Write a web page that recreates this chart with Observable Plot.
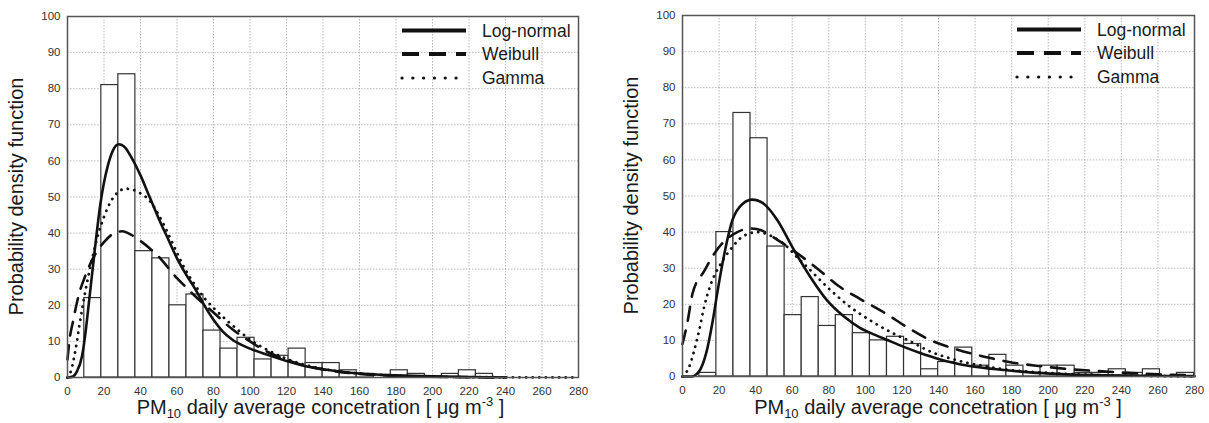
<!DOCTYPE html>
<html><head><meta charset="utf-8">
<script src="https://cdn.jsdelivr.net/npm/d3@7"></script>
<script src="https://cdn.jsdelivr.net/npm/@observablehq/plot@0.6"></script>
<style>
body{margin:0;background:#fff;}
#wrap{display:flex;width:1209px;height:423px;overflow:hidden;}
svg{font-family:"Liberation Sans",Arial,sans-serif;}
</style></head><body><div id="wrap"></div>
<script>
// ---------- data ----------
const binStart = 9.2, binWidth = 9.33;
const countsLeft  = [22,81,84,35,33,20,23,13,8,11,5,6,8,4,4,2,1,0,2,1,0,1,2,1];
const countsRight = [1,40,73,66,36,17,22,14,17,12,10,11,9,2,4,8,3,6,3,1,3,3,1,1,2,1,2,0,1];
const xTicks = [0,20,40,60,80,100,120,140,160,180,200,220,240,260,280];
const yTicks = [0,10,20,30,40,50,60,70,80,90,100];
const seriesNames = ["Log-normal","Weibull","Gamma"];

const lognormLeft = [[0,0],[3,0.3],[5,1.5],[8,6],[10,13],[12,22],[14,31],[16,40],[18,48],[20,54],[22,58.5],[25,63],[28,64.6],[31,64],[35,61],[40,56],[45,50],[50,44],[55,38.5],[60,33],[65,28.5],[70,24.5],[75,20],[80,16],[85,12.8],[90,10.6],[100,8],[110,6.2],[120,4.6],[130,3.2],[140,2.3],[150,1.6],[160,1.1],[180,0.6],[200,0.3],[220,0.15],[240,0.05]];
const weibullLeft = [[0,5],[1,10],[3,15.5],[6,22.5],[10,28.5],[15,34],[20,37.5],[25,39.8],[30,40.5],[35,39.5],[40,37.8],[45,35.8],[50,33.5],[55,30.5],[60,27.5],[65,25],[70,22.5],[80,18],[90,13.5],[100,10],[110,7],[120,4.9],[130,3.3],[140,2.2],[150,1.5],[160,1],[180,0.4],[200,0.2],[220,0.08],[240,0.03]];
const gammaLeft = [[0,0],[2,2],[4.5,8],[6.4,14],[8.2,19.5],[11,27],[14,34],[17,40],[20,44.5],[24,49],[28,51.5],[32,52.3],[36,52],[40,51],[45,49],[50,45],[55,40],[60,34.5],[65,29.5],[70,25.5],[75,22],[80,19.3],[88,15.5],[95,12.5],[100,10.5],[110,7.5],[120,5.2],[130,3.5],[140,2.4],[150,1.6],[160,1.1],[180,0.5],[200,0.2],[220,0.1],[240,0.05],[260,0.02],[280,0]];

const lognormRight = [[0,0],[5.5,0],[8,0.8],[10,2.2],[13.6,7.8],[16.4,15],[19.1,23.4],[22.7,33.5],[27.3,43.3],[32.8,47.8],[38.2,49],[44.6,47.8],[51.9,43.3],[61,35],[70,27.5],[79.2,21],[88.3,16.6],[97,13.5],[105,11.6],[112,10.1],[121,8.2],[130,6.5],[139,5],[148,3.8],[157,2.9],[176,1.8],[194,1],[210,0.6],[230,0.35],[250,0.2],[280,0.1]];
const weibullRight = [[0,9],[2.7,15],[5.5,23],[12,29.3],[18,34.5],[24,38],[30,40],[37,41],[43,40.5],[49,38.8],[56,36.5],[62,34.4],[74,29.8],[85,25.2],[97,21.5],[110,17.8],[123,13.6],[135,10.2],[150,7.5],[165,5.5],[180,3.9],[197,2.8],[210,2.1],[227,1.5],[240,1.1],[260,0.6],[280,0.3]];
const gammaRight = [[0,0],[3.6,2.6],[6.4,7.2],[9.1,12.7],[11.8,19.2],[15.5,25.6],[20.9,31.2],[26.4,35.3],[33.6,39],[41,40],[48.2,39],[55.5,36.7],[62.8,33],[70,29.4],[81,23.9],[91.9,19.2],[102.8,15.5],[113.8,12.3],[124.7,9.7],[135.6,6.9],[146.5,5],[157.5,3.6],[168.4,2.6],[179.3,1.8],[194,1.2],[210,0.7],[230,0.35],[250,0.18],[280,0.05]];

// ---------- styles ----------
const lineStyles = [
  {stroke:"#111", strokeWidth:2.6},
  {stroke:"#111", strokeWidth:2.6, strokeDasharray:"14,10"},
  {stroke:"#111", strokeWidth:2.8, strokeDasharray:"0.1,6.5", strokeLinecap:"round"}
];
const legendStyles = [
  {w:4, dash:null},
  {w:4.2, dash:"17,10"},
  {w:3.2, dash:"0.1,10.7"}
];
const FONT = '"Liberation Sans",Arial,sans-serif';

function panel(cfg) {
  const bars = cfg.counts.map((c,i)=>({x1: binStart + i*binWidth, x2: binStart + (i+1)*binWidth, y: c}));
  const curves = [cfg.ln, cfg.wb, cfg.gm];
  const svg = Plot.plot({
    width: cfg.width, height: 423,
    marginLeft: cfg.ml, marginRight: cfg.mr, marginTop: cfg.mt, marginBottom: cfg.mb,
    style: {fontFamily: FONT, fontSize: "11.5px", color: "#333", background: "#fff"},
    x: {domain:[0,280]},
    y: {domain:[0,100]},
    marks: [
      Plot.gridX(xTicks, {stroke:"#aaa", strokeOpacity:1, strokeWidth:0.8, strokeDasharray:"1.5,1.5"}),
      Plot.gridY(yTicks, {stroke:"#aaa", strokeOpacity:1, strokeWidth:0.8, strokeDasharray:"1.5,1.5"}),
      Plot.rectY(bars, {x1:"x1", x2:"x2", y:"y", fill:"#fff", stroke:"#333", strokeWidth:1.2}),
      ...curves.map((d,k)=>Plot.line(d, {x:d=>d[0], y:d=>d[1], curve:"monotone-x", ...lineStyles[k]})),
      Plot.frame({stroke:"#555", strokeWidth:1.5}),
      Plot.axisX(xTicks, {tickSize:0, tickPadding:9, label:null, fill:"#333"}),
      Plot.axisY(yTicks, {tickSize:0, tickPadding:7, label:null, fill:"#333"})
    ]
  });
  const s = d3.select(svg);
  const W = cfg.width, H = 423;
  const pw = W - cfg.ml - cfg.mr;
  const ph = H - cfg.mt - cfg.mb;
  // y axis title
  s.append("text")
    .attr("transform", `translate(${cfg.yTitleX},${cfg.mt + ph/2}) rotate(-90)`)
    .attr("text-anchor","middle").attr("dominant-baseline","middle")
    .attr("font-family", FONT).attr("font-size", 20).attr("fill","#1a1a1a")
    .text("Probability density function");
  // x axis title with sub/superscript
  const xt = s.append("text")
    .attr("x", cfg.ml + pw/2 + cfg.xTitleShift).attr("y", 414)
    .attr("text-anchor","middle")
    .attr("font-family", FONT).attr("font-size", 20).attr("fill","#1a1a1a");
  xt.append("tspan").text("PM");
  xt.append("tspan").attr("font-size",13).attr("dy",4).text("10");
  xt.append("tspan").attr("dy",-4).text(" daily average concetration [ μg m");
  xt.append("tspan").attr("font-size",13).attr("dy",-8).text("-3");
  xt.append("tspan").attr("dy",8).text(" ]");
  // legend
  const lg = s.append("g").attr("transform", `translate(${cfg.ml},${cfg.mt})`);
  const rowsY = [14.5, 38, 62];
  seriesNames.forEach((name,k)=>{
    const ln = lg.append("line")
      .attr("x1", 335).attr("x2", 399).attr("y1", rowsY[k]).attr("y2", rowsY[k])
      .attr("stroke","#111").attr("stroke-width", legendStyles[k].w);
    if (legendStyles[k].dash) ln.attr("stroke-dasharray", legendStyles[k].dash);
    if (k===2) ln.attr("stroke-linecap","round");
    lg.append("text").attr("x", 415).attr("y", rowsY[k])
      .attr("text-anchor","start")
      .attr("dy","0.35em")
      .attr("font-family", FONT).attr("font-size", 17.5).attr("fill","#1a1a1a")
      .text(name);
  });
  return svg;
}

const wrap = document.getElementById("wrap");
wrap.appendChild(panel({width:605, ml:67, mr:27, mt:16, mb:46, counts:countsLeft,
  ln:lognormLeft, wb:weibullLeft, gm:gammaLeft, yTitleX:18, xTitleShift:-2}));
wrap.appendChild(panel({width:604, ml:77, mr:15, mt:15, mb:47, counts:countsRight,
  ln:lognormRight, wb:weibullRight, gm:gammaRight, yTitleX:28, xTitleShift:0}));
</script></body></html>
